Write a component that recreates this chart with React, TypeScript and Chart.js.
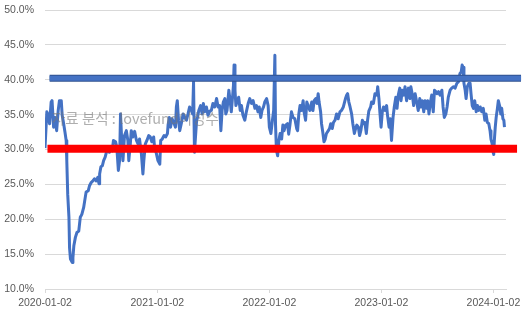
import { useEffect, useRef } from 'react';
import { Chart, registerables } from 'chart.js';

Chart.register(...registerables);

const START_DATE = '2020-01-02';
const AXIS_END_DATE = '2024-02-12';
const xTickLabels = ['2020-01-02', '2021-01-02', '2022-01-02', '2023-01-02', '2024-01-02'];
const Y_MIN = 10;
const Y_MAX = 50;
const Y_STEP = 5;

// days since 2020-01-02
const dayOffsets = [
  0, 6, 9, 15, 20, 23, 28, 33, 38, 43, 47, 53, 56, 60, 65, 69, 71, 74, 78, 80,
  83, 89, 91, 94, 99, 104, 110, 115, 120, 126, 131, 134, 141, 145, 151, 156, 161, 167, 172, 176,
  178, 182, 187, 191, 196, 200, 205, 210, 214, 219, 223, 230, 234, 239, 243, 246, 250, 254, 259,
  265, 270, 273, 278, 281, 286, 292, 298, 303, 308, 314, 319, 322, 327, 332, 338, 343, 348, 354, 357,
  363, 368, 374, 377, 382, 388, 393, 399, 401, 405, 409, 414, 419, 425, 428, 431, 435, 439, 444, 450,
  455, 461, 466, 471, 477, 481, 484, 487, 494, 497, 501, 507, 512, 516, 520, 526, 531, 537,
  542, 547, 553, 559, 564, 569, 573, 577, 581, 586, 589, 593, 599, 603, 607, 611, 614, 616, 619, 622,
  627, 631, 636, 640, 645, 651, 656, 662, 667, 673, 678, 684, 689, 694, 698, 703, 707, 712, 716, 722,
  727, 731, 736, 741, 745, 749, 751, 754, 758, 762, 766, 771, 775, 779, 784, 790, 794, 798,
  803, 808, 814, 820, 823, 827, 831, 836, 841, 844, 849, 853, 857, 863, 869, 873, 877, 882, 886, 890,
  893, 898, 901, 905, 909, 913, 917, 923, 927, 931, 936, 940, 945, 950, 955, 961, 966, 972, 975, 979,
  983, 986, 990, 994, 999, 1003, 1008, 1012, 1016, 1021, 1025, 1029, 1034, 1038, 1042, 1047, 1051, 1055,
  1061, 1064, 1070, 1075, 1081, 1084, 1088, 1091, 1095, 1099, 1103, 1108, 1113, 1116, 1121, 1125, 1129, 1134, 1138, 1143,
  1147, 1151, 1156, 1160, 1164, 1169, 1173, 1178, 1184, 1189, 1192, 1197, 1201, 1206, 1211, 1216, 1221, 1225, 1229, 1234,
  1238, 1244, 1247, 1251, 1256, 1260, 1265, 1269, 1273, 1277, 1282, 1287, 1293, 1297, 1301, 1306, 1310, 1314,
  1320, 1325, 1331, 1336, 1342, 1347, 1352, 1356, 1359, 1362, 1365, 1369, 1372, 1376, 1381, 1385, 1388, 1392, 1396, 1400,
  1405, 1409, 1413, 1418, 1423, 1428, 1433, 1437, 1441, 1446, 1450, 1453, 1457, 1460, 1462, 1464, 1467, 1470, 1474, 1477,
  1481, 1485, 1488, 1492, 1495, 1497,
];

// rate in %
const ratePct = [
  30.2, 35.4, 35.1, 33.7, 36.8, 37.0, 33.2, 34.6, 32.7, 35.6, 37.0, 37.0, 34.9, 33.9, 32.5, 31.3, 28.4, 23.6, 20.3, 15.9,
  14.3, 13.8, 14.5, 16.2, 17.4, 18.1, 18.3, 20.3, 20.7, 21.7, 23.1, 23.9, 24.1, 24.8, 25.3, 25.5, 25.8, 25.5, 26.0, 25.1,
  26.5, 27.5, 27.7, 28.4, 28.9, 29.6, 30.1, 29.6, 30.2, 29.8, 31.3, 31.1, 30.3, 27.0, 28.4, 35.1, 31.3, 28.4, 32.0,
  32.7, 31.3, 28.4, 30.8, 32.7, 31.8, 32.6, 31.3, 30.8, 31.5, 29.4, 26.5, 28.4, 30.8, 31.3, 32.0, 31.8, 31.1, 31.8, 30.3,
  29.4, 28.4, 27.9, 31.3, 31.5, 32.0, 31.8, 32.3, 33.5, 34.6, 33.2, 34.4, 33.9, 33.2, 36.1, 37.0, 34.2, 32.7, 33.7, 35.1,
  34.6, 34.2, 35.1, 36.1, 35.6, 35.1, 39.7, 29.6, 34.2, 34.6, 35.6, 36.3, 35.1, 36.6, 35.4, 36.1, 34.9, 35.5,
  35.6, 36.6, 36.1, 37.3, 36.1, 36.3, 32.7, 35.6, 36.8, 37.3, 35.1, 35.6, 38.5, 37.0, 35.4, 37.5, 39.2, 42.1, 38.5, 36.3,
  37.0, 37.5, 35.6, 36.3, 34.9, 34.2, 35.4, 36.6, 37.3, 36.6, 37.0, 35.9, 36.3, 35.4, 36.1, 34.6, 35.6, 36.1, 36.8, 37.3,
  36.3, 33.2, 32.3, 34.2, 35.6, 43.5, 33.7, 29.9, 29.1, 31.3, 32.3, 31.5, 33.5, 32.7, 33.5, 33.7, 32.2, 33.5,
  35.4, 34.6, 34.4, 33.0, 32.7, 35.1, 36.3, 35.6, 37.0, 35.4, 34.2, 36.8, 36.3, 35.6, 36.8, 35.6, 37.0, 37.3, 36.6, 38.0,
  36.8, 35.4, 33.7, 32.5, 31.1, 31.5, 32.3, 32.7, 33.0, 33.7, 33.0, 33.9, 34.2, 35.1, 34.4, 35.4, 35.6, 36.1, 36.6, 37.3,
  37.8, 38.0, 36.8, 36.1, 35.1, 33.7, 32.3, 33.0, 33.5, 33.2, 32.0, 32.7, 34.2, 33.7, 33.9, 32.3, 34.2, 35.5,
  36.1, 36.8, 36.6, 38.0, 37.8, 39.0, 37.3, 35.4, 33.2, 35.4, 36.1, 35.6, 36.3, 34.9, 33.2, 34.4, 31.3, 34.6, 36.1, 37.5,
  35.9, 37.8, 38.8, 37.0, 38.5, 37.8, 39.0, 37.0, 38.8, 37.3, 39.0, 37.8, 36.3, 38.0, 36.8, 35.6, 37.3, 36.1, 37.0, 35.4,
  37.0, 35.9, 37.0, 35.1, 36.8, 37.8, 35.4, 38.5, 38.3, 38.0, 38.3, 37.8, 38.5, 36.1, 34.6, 35.1, 36.1, 37.5,
  38.5, 38.8, 39.0, 38.8, 39.5, 39.7, 40.9, 41.1, 42.1, 41.8, 39.5, 38.5, 37.3, 39.0, 39.5, 39.5, 38.0, 36.3, 35.9, 37.0,
  35.4, 36.3, 35.6, 36.1, 35.4, 35.9, 34.2, 35.1, 33.9, 33.7, 32.7, 31.5, 30.8, 29.6, 29.3, 31.3, 33.2, 34.6, 35.9, 37.0,
  36.3, 35.1, 35.9, 34.4, 34.2, 33.2,
];

// horizontal reference bands (value in %, extent in days since start)
const upperBandPct = 40.2;
const upperBandDays = [15, 1551];
const lowerBandPct = 30.1;
const lowerBandDays = [8, 1538];

const WATERMARK = '자료 분석 : lovefund이성수';

const dayOf = (date: string) =>
  Math.round((Date.parse(date) - Date.parse(START_DATE)) / 86400000);
const xTickDays = xTickLabels.map(dayOf);
const axisEndDay = dayOf(AXIS_END_DATE);

const tickFont = { family: "'Liberation Sans', Arial, sans-serif", size: 10.5 };

const watermarkPlugin = {
  id: 'watermark',
  afterDatasetsDraw(chart: any) {
    const { ctx, chartArea } = chart;
    ctx.save();
    ctx.font = "14.5px 'Noto Sans CJK KR', sans-serif";
    ctx.fillStyle = 'rgba(120,120,120,0.6)';
    ctx.textBaseline = 'middle';
    ctx.textAlign = 'left';
    ctx.fillText(WATERMARK, chartArea.left + 7, chartArea.top + 108);
    ctx.restore();
  },
};

export default function App() {
  const ref = useRef<HTMLCanvasElement>(null);
  useEffect(() => {
    const canvas = ref.current;
    if (!canvas) return;
    const band = (days: number[], v: number) => days.map((d) => ({ x: d, y: v }));
    const chart = new Chart(canvas, {
      type: 'line',
      data: {
        datasets: [
          {
            label: 'upperFill',
            data: band(upperBandDays, upperBandPct),
            borderColor: '#4472C4',
            borderWidth: 5,
            pointRadius: 0,
            order: 1,
            clip: false,
            borderCapStyle: 'butt',
          },
          {
            label: 'upperEdge',
            data: band(upperBandDays, upperBandPct),
            borderColor: '#2F528F',
            borderWidth: 7,
            pointRadius: 0,
            order: 2,
            clip: false,
            borderCapStyle: 'butt',
          },
          {
            label: 'lower',
            data: band(lowerBandDays, lowerBandPct),
            borderColor: '#FF0000',
            borderWidth: 8,
            pointRadius: 0,
            order: 1,
            clip: false,
            borderCapStyle: 'butt',
          },
          {
            label: 'rate',
            data: dayOffsets.map((d, i) => ({ x: d, y: ratePct[i] })),
            borderColor: '#4472C4',
            borderWidth: 3,
            pointRadius: 0,
            tension: 0,
            order: 3,
            borderJoinStyle: 'round',
          },
        ],
      } as any,
      options: {
        animation: false,
        responsive: false,
        maintainAspectRatio: false,
        layout: { padding: { top: 10, right: 19, bottom: 0, left: 0 } },
        plugins: { legend: { display: false }, tooltip: { enabled: false } },
        scales: {
          x: {
            type: 'linear',
            min: 0,
            max: axisEndDay,
            afterBuildTicks: (s: any) => {
              s.ticks = xTickDays.map((v) => ({ value: v }));
            },
            afterFit: (s: any) => {
              s.height = 25;
              s.paddingLeft = 0;
              s.paddingRight = 0;
            },
            ticks: {
              autoSkip: false,
              maxRotation: 0,
              color: '#595959',
              font: tickFont,
              padding: 4,
              callback: (v: any) => xTickLabels[xTickDays.indexOf(Number(v))] ?? '',
            },
            grid: { drawOnChartArea: false, drawTicks: true, tickLength: 4, color: '#d9d9d9' },
            border: { display: true, color: '#d9d9d9' },
          },
          y: {
            min: Y_MIN,
            max: Y_MAX,
            afterFit: (s: any) => {
              s.width = 45;
              s.paddingTop = 0;
              s.paddingBottom = 0;
            },
            ticks: {
              stepSize: Y_STEP,
              color: '#595959',
              font: tickFont,
              padding: 11,
              callback: (v: any) => Number(v).toFixed(1) + '%',
            },
            grid: { color: '#d9d9d9', drawTicks: false },
            border: { display: false },
          },
        },
      } as any,
      plugins: [watermarkPlugin],
    });
    return () => chart.destroy();
  }, []);
  return (
    <div style={{ position: 'fixed', left: 0, top: 0, width: 525, height: 314 }}>
      <canvas ref={ref} width={525} height={314} style={{ display: 'block' }} />
    </div>
  );
}
